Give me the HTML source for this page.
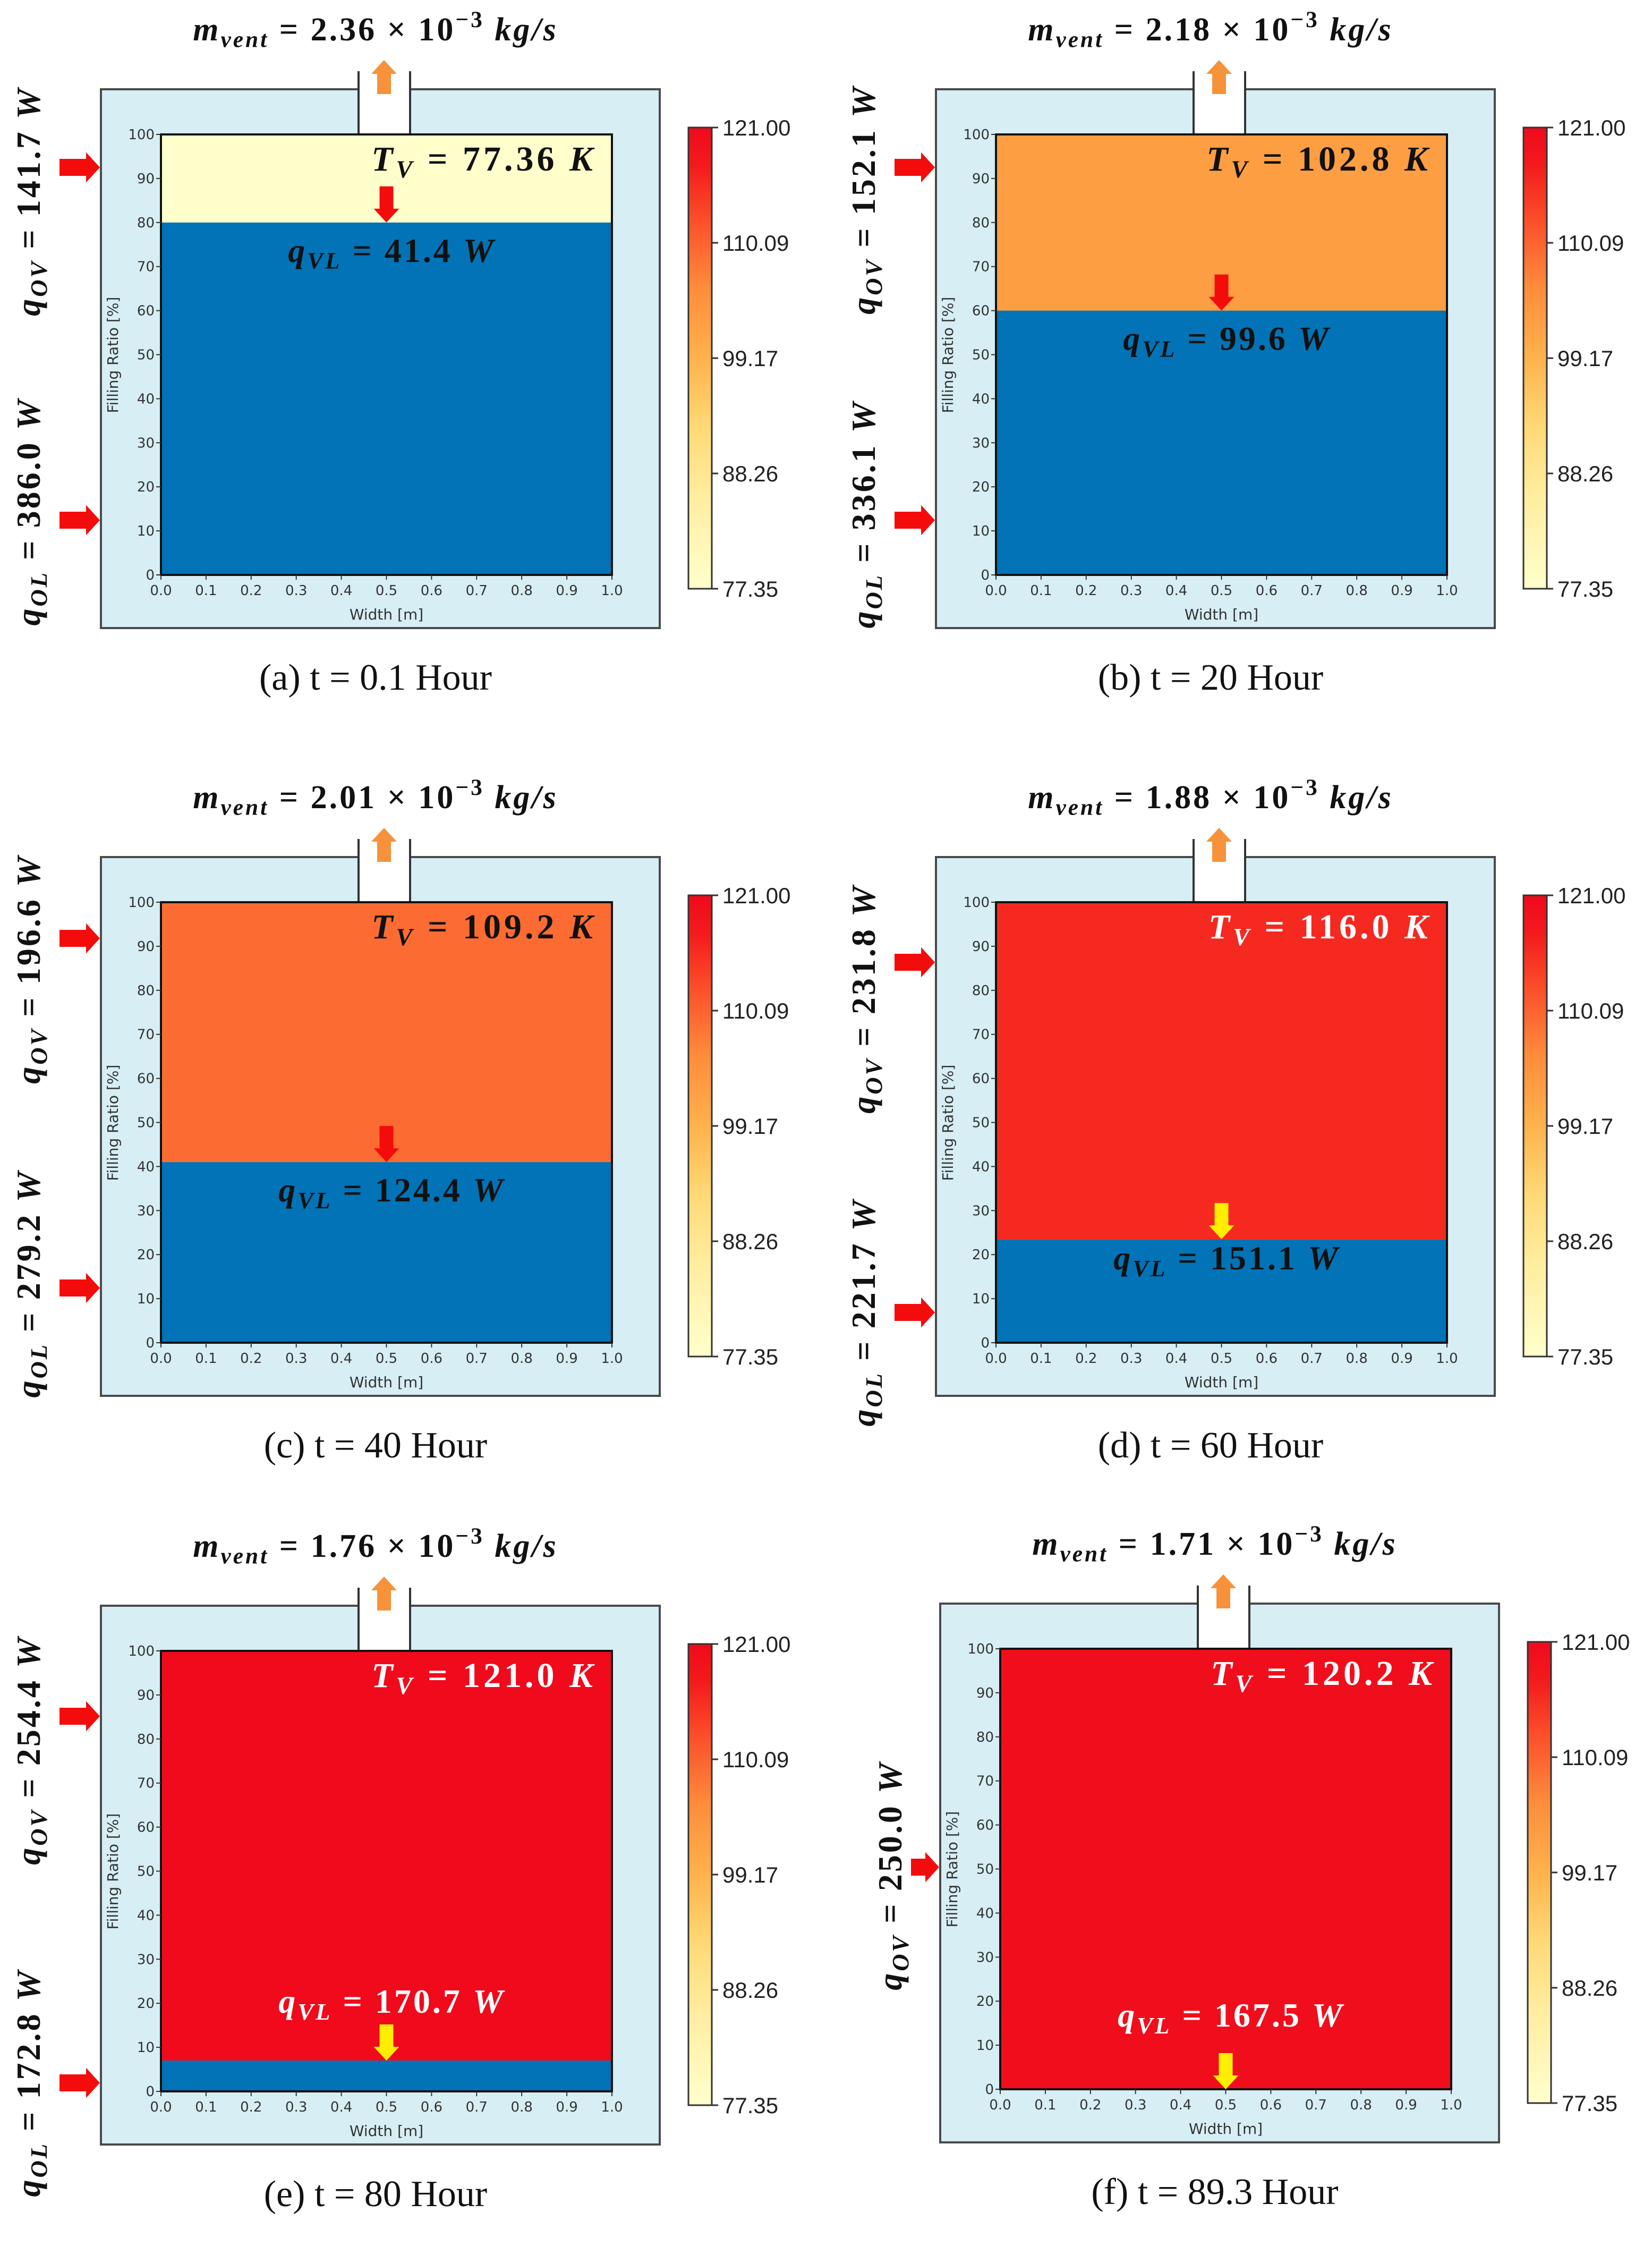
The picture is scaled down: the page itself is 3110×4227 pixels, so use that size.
<!DOCTYPE html>
<html><head><meta charset="utf-8"><style>
html,body{margin:0;padding:0;background:#fff;}
svg{display:block;}
</style></head><body>
<svg id="fig" xmlns="http://www.w3.org/2000/svg" width="3110" height="4227"></svg>
<script>
// ---- data ----
const panelLetters = ["a","b","c","d","e","f"];
const timesHours = ["0.1","20","40","60","80","89.3"];
const fillRatios = [80, 60, 41, 23.5, 7, 0];
const vaporTemps = [77.36, 102.8, 109.2, 116.0, 121.0, 120.2];
const vaporTempLabels = [" 77.36", "102.8", "109.2", "116.0", "121.0", "120.2"];
const qVL = ["41.4", "99.6", "124.4", "151.1", "170.7", "167.5"];
const qOV = ["141.7", "152.1", "196.6", "231.8", "254.4", "250.0"];
const qOL = ["386.0", "336.1", "279.2", "221.7", "172.8", null];
const mVent = ["2.36", "2.18", "2.01", "1.88", "1.76", "1.71"];
const cbarTicks = ["121.00", "110.09", "99.17", "88.26", "77.35"];
const yTicks = [0,10,20,30,40,50,60,70,80,90,100];
const xTicks = [0,0.1,0.2,0.3,0.4,0.5,0.6,0.7,0.8,0.9,1.0];
const tMin = 77.35, tMax = 121.0;

// layout (not data)
const colDX = [0, 1572, 0, 1572, 0, 1580];
const rowDY = [0, 0, 1445, 1445, 2854, 2850];
const ovPos = [[379,315],[376,315],[379,321],[435,366],[440,376],[680,664]];
const olPos = [[963,979],[968,979],[971,979],[1025,1025],[1066,1066],null];
const textWhite = [false,false,false,true,true,true];
const arrowYellow = [false,false,false,true,true,true];

const stops = [[0,[255,255,204]],[0.2,[255,237,160]],[0.35,[254,217,118]],[0.5,[254,178,76]],[0.65,[253,141,60]],[0.8,[252,78,42]],[0.92,[242,26,28]],[1,[240,10,28]]];
function cmap(t){
  let f=(t-tMin)/(tMax-tMin); f=Math.max(0,Math.min(1,f));
  for(let i=1;i<stops.length;i++){ if(f<=stops[i][0]){const a=stops[i-1],b=stops[i];const u=(f-a[0])/(b[0]-a[0]);
    const c=a[1].map((v,k)=>Math.round(v+(b[1][k]-v)*u));return `rgb(${c[0]},${c[1]},${c[2]})`;}}
  return "rgb(240,10,28)";
}
const NS="http://www.w3.org/2000/svg";
const svg=document.getElementById('fig');
function el(tag,attrs,parent){const e=document.createElementNS(NS,tag);for(const k in attrs)e.setAttribute(k,attrs[k]);(parent||svg).appendChild(e);return e;}
function mathText(parent,x,y,size,parts,fill,anchor,rot,ls){
  const t=el('text',{x:x,y:y,'font-size':size,'font-family':'"Liberation Serif", serif','font-weight':'bold',fill:fill,'text-anchor':anchor||'middle','letter-spacing':ls||0},parent);
  if(rot) t.setAttribute('transform',`rotate(-90 ${x} ${y})`);
  parts.forEach(p=>{const s=el('tspan',{},t);s.textContent=p.t;if(p.i)s.setAttribute('font-style','italic');
    if(p.sub){s.setAttribute('font-size',size*0.7);s.setAttribute('dy',size*0.2);}
    if(p.sup){s.setAttribute('font-size',size*0.7);s.setAttribute('dy',-size*0.4);}
    if(p.back){s.setAttribute('dy',p.back*size);}});
  return t;
}
svg.innerHTML = `<defs><linearGradient id="cbg" x1="0" y1="1" x2="0" y2="0">${stops.map(s=>`<stop offset="${s[0]}" stop-color="rgb(${s[1].join(',')})"/>`).join('')}</linearGradient></defs>`;

function hArrow(g,xL,xR,yc,color){
  const hw=34, sw=16, hl=26;
  el('polygon',{points:`${xL},${yc-sw} ${xR-hl},${yc-sw} ${xR-hl},${yc-hw/1.2} ${xR},${yc} ${xR-hl},${yc+hw/1.2} ${xR-hl},${yc+sw} ${xL},${yc+sw}`,fill:color},g);
}
function vArrow(g,xc,yTop,yBot,color,up){
  const sw=13, hw=24, hl=26;
  if(!up) el('polygon',{points:`${xc-sw},${yTop} ${xc+sw},${yTop} ${xc+sw},${yBot-hl} ${xc+hw},${yBot-hl} ${xc},${yBot} ${xc-hw},${yBot-hl} ${xc-sw},${yBot-hl}`,fill:color},g);
  else el('polygon',{points:`${xc-sw},${yBot} ${xc+sw},${yBot} ${xc+sw},${yTop+hl} ${xc+hw},${yTop+hl} ${xc},${yTop} ${xc-hw},${yTop+hl} ${xc-sw},${yTop+hl}`,fill:color},g);
}

for(let i=0;i<6;i++){
  const dx=colDX[i], dy=rowDY[i];
  const g=el('g',{transform:`translate(${dx},${dy})`});
  
  
  const PL=303, PR=1152, PT=253, PB=1082;
  const yS=v=>PB-(v/100)*(PB-PT);
  const xS=v=>PL+v*(PR-PL);
  const fr=el('rect',{x:190,y:168,width:1052,height:1014,fill:'#d6eef4',stroke:'#4a4a4a','stroke-width':4},g);
  
  
  const vp=el('rect',{x:675,y:150,width:97,height:110,fill:'#fff'},g);
  
  
  el('line',{x1:675,y1:134,x2:675,y2:PT,stroke:'#333','stroke-width':4},g);
  el('line',{x1:772,y1:134,x2:772,y2:PT,stroke:'#333','stroke-width':4},g);
  vArrow(g,723,113,177,'#f7923a',true);
  const vap=el('rect',{x:PL,y:PT,width:PR-PL,height:yS(fillRatios[i])-PT,fill:cmap(vaporTemps[i])},g);
  
  
  const liq=el('rect',{x:PL,y:yS(fillRatios[i]),width:PR-PL,height:PB-yS(fillRatios[i]),fill:'#0173b6'},g);
  
  
  el('rect',{x:PL,y:PT,width:PR-PL,height:PB-PT,fill:'none',stroke:'#111','stroke-width':4},g);
  yTicks.forEach(v=>{el('line',{x1:PL-9,y1:yS(v),x2:PL,y2:yS(v),stroke:'#333','stroke-width':2},g);
    const t=el('text',{x:PL-12,y:yS(v)+9,'font-size':26,'font-family':'"DejaVu Sans", sans-serif',fill:'#333','text-anchor':'end'},g);t.textContent=v;
    
    });
  xTicks.forEach(v=>{el('line',{x1:xS(v),y1:PB,x2:xS(v),y2:PB+9,stroke:'#333','stroke-width':2},g);
    const t=el('text',{x:xS(v),y:PB+38,'font-size':26,'font-family':'"DejaVu Sans", sans-serif',fill:'#333','text-anchor':'middle'},g);t.textContent=v.toFixed(1);
    
    });
  const yl=el('text',{x:222,y:668,'font-size':28,'font-family':'"DejaVu Sans", sans-serif',fill:'#333','text-anchor':'middle',transform:'rotate(-90 222 668)'},g);
  yl.textContent='Filling Ratio [%]';
  
  
  const xl=el('text',{x:(PL+PR)/2,y:PB+84,'font-size':28,'font-family':'"DejaVu Sans", sans-serif',fill:'#333','text-anchor':'middle'},g);
  xl.textContent='Width [m]';
  
  
  const cb=el('rect',{x:1296,y:240,width:44,height:868,fill:'url(#cbg)',stroke:'#333','stroke-width':3},g);
  
  
  cbarTicks.forEach((lab,k)=>{const y=240+k*868/4;
    el('line',{x1:1340,y1:y,x2:1352,y2:y,stroke:'#333','stroke-width':3},g);
    const t=el('text',{x:1360,y:y+15,'font-size':42,'font-family':'"Liberation Sans", sans-serif',fill:'#222'},g);t.textContent=lab;
    
    });
  const tt=mathText(g,707,76,62,[{t:'m',i:1},{t:'vent',i:1,sub:1},{t:' = '+mVent[i]+' × 10',back:-0.2},{t:'−3',sup:1},{t:' kg/s',i:1,back:0.4}],'#111','middle',false,4);
  
  
  const tc=textWhite[i]?'#fff':'#111';
  const tv=mathText(g,PR-30,PT+68,66,[{t:'T',i:1},{t:'V',i:1,sub:1},{t:' = '+vaporTempLabels[i]+' ',back:-0.2},{t:'K',i:1}],tc,'end',false,6);
  
  
  const yi=yS(fillRatios[i]);
  const ac=arrowYellow[i]?'#ffee00':'#f40c0c';
  vArrow(g,(PL+PR)/2,yi-68,yi,ac,false);
  let qy;
  if(i<=2) qy=yi+74; else if(i===3) qy=yi+57; else if(i===4) qy=yi-90; else qy=PB-118;
  const qc=(i>=4)?'#fff':'#111';
  const qv=mathText(g,(PL+PR)/2+10,qy,64,[{t:'q',i:1},{t:'VL',i:1,sub:1},{t:' = '+qVL[i]+' ',back:-0.2},{t:'W',i:1}],qc,'middle',false,4);
  
  
  const lx = i===5?97:55;
  const ov=mathText(g,lx+20,ovPos[i][0],64,[{t:'q',i:1},{t:'OV',i:1,sub:1},{t:' = '+qOV[i]+' ',back:-0.2},{t:'W',i:1}],'#111','middle',true,4);
  
  
  hArrow(g,i===5?135:112,188,ovPos[i][1],'#f40c0c');
  if(olPos[i]){
    const ol=mathText(g,lx+20,olPos[i][0],64,[{t:'q',i:1},{t:'OL',i:1,sub:1},{t:' = '+qOL[i]+' ',back:-0.2},{t:'W',i:1}],'#111','middle',true,4);
    
    
    hArrow(g,112,188,olPos[i][1],'#f40c0c');
  }
  const cap=el('text',{x:707,y:1298,'font-size':70,'font-family':'"Liberation Serif", serif',fill:'#111','text-anchor':'middle'},g);
  cap.textContent=`(${panelLetters[i]}) t = ${timesHours[i]} Hour`;
  
  
}
</script>
</body></html>
